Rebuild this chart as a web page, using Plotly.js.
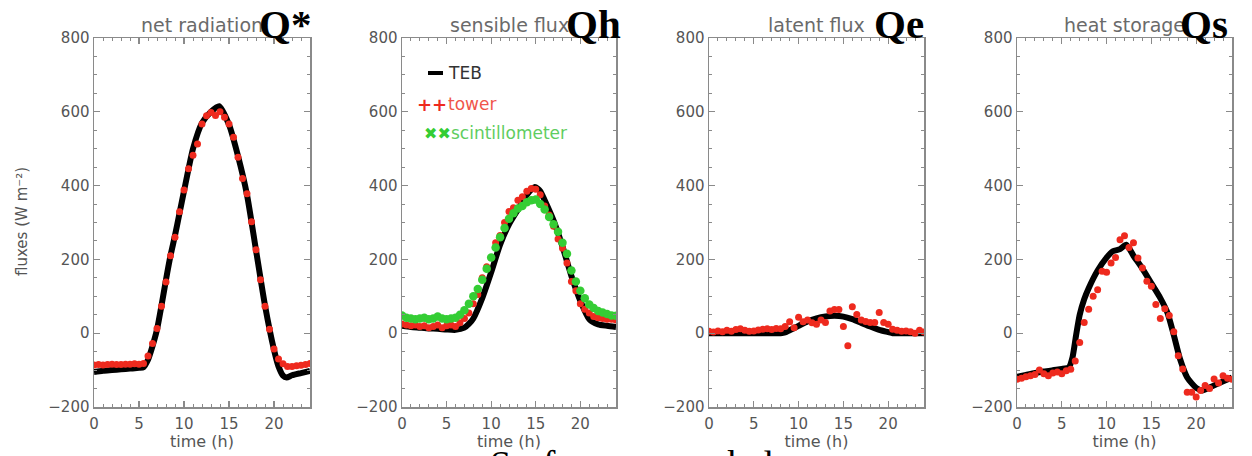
<!DOCTYPE html>
<html>
<head>
<meta charset="utf-8">
<script src="https://cdn.plot.ly/plotly-3.0.1.min.js"></script>
<style>html,body{margin:0;padding:0;background:#fff;}#chart{width:1252px;height:456px;}</style>
</head>
<body>
<div id="chart"></div>
<script>
// ---- data ----
const panelTitles = ["net radiation", "sensible flux", "latent flux", "heat storage"];
const panelTags = ["Q*", "Qh", "Qe", "Qs"];
const seriesNames = ["TEB", "tower", "scintillometer"];
const xTitle = "time (h)";
const yTitle = "fluxes (W m⁻²)";
const bottomText = "Surface energy balance";

// half-hourly observation times
const obsTime = [0,0.5,1,1.5,2,2.5,3,3.5,4,4.5,5,5.5,6,6.5,7,7.5,8,8.5,9,9.5,10,10.5,11,11.5,12,12.5,13,13.5,14,14.5,15,15.5,16,16.5,17,17.5,18,18.5,19,19.5,20,20.5,21,21.5,22,22.5,23,23.5,24];

// net radiation
const tebQstarTime = [0,1,2,3,4,5,5.5,6,6.5,7,7.5,8,8.5,9,9.5,10,11,12,13,13.9,15,16,17,18,19,20,20.5,21,21.4,22,23,24];
const tebQstar = [-105,-102,-100,-98,-96,-94,-92,-72,-35,10,75,145,210,265,325,385,500,570,600,615,565,480,375,225,75,-45,-90,-115,-120,-114,-108,-102];
const towerQstar = [-86,-85,-86,-85,-84,-85,-85,-84,-84,-83,-84,-82,-62,-28,13,73,139,210,260,329,388,446,482,513,567,589,598,590,600,585,567,531,477,419,378,302,226,145,73,11,-43,-70,-83,-90,-90,-88,-87,-85,-82];

// sensible flux
const tebQhTime = [0,1,2,3,4,5,6,7,7.5,8,9,10,11,12,13,14,14.9,15.5,16,17,18,19,20,21,22,23,24];
const tebQh = [20,17,15,13,12,10,9,15,25,40,95,165,240,295,335,375,396,385,360,305,235,155,88,38,24,20,17];
const towerQh = [25,22,20,22,18,20,15,18,22,15,20,22,18,28,40,55,80,105,150,180,205,245,265,300,330,340,360,370,385,392,390,375,345,320,290,255,230,190,140,115,80,65,55,45,42,40,38,38,36];
const scintQh = [48,42,40,38,40,42,38,40,45,40,38,40,42,50,62,80,100,120,145,175,205,232,260,285,310,325,338,345,355,360,362,350,335,315,295,275,245,215,170,140,115,95,78,68,60,56,52,48,47];

// latent flux
const tebQeTime = [0,2,4,6,8,8.5,9,10,11,12,13,14,15,16,17,18,19,20,20.5,22,24];
const tebQe = [0,0,0,0,0,2,8,20,32,40,45,47,45,38,28,18,9,3,0,0,0];
const towerQe = [5,3,6,4,8,5,10,12,8,5,6,9,11,12,10,13,12,18,31,15,43,31,36,28,24,36,29,60,64,64,18,-34,72,51,36,32,29,29,56,29,24,11,8,5,6,4,0,8,3];

// heat storage
const tebQsTime = [0,1,2,3,4,5,5.8,6.2,6.6,7,7.5,8,9,10,10.7,11.5,12.2,13,14,15,16,16.8,17.5,18.2,19,20,20.7,21.5,22.5,24];
const tebQs = [-118,-113,-108,-104,-100,-97,-92,-65,-5,50,92,122,170,205,222,228,240,210,175,135,95,55,-5,-70,-120,-148,-155,-147,-136,-120];
const towerQs = [-125,-122,-118,-115,-112,-100,-110,-115,-108,-105,-110,-102,-98,-75,-25,29,65,100,118,168,165,190,205,253,264,232,245,204,177,141,127,78,40,66,48,4,-61,-97,-160,-160,-173,-155,-142,-150,-124,-135,-115,-122,-125];

const xTickVals = [0,5,10,15,20];
const yTickVals = [-200,0,200,400,600,800];

// ---- layout geometry ----
const W = 1252, H = 456;
const panelPx = [[94,310],[402,616],[709,924],[1017,1232]];
const yDom = [1 - 407/H, 1 - 38/H];
const RED = 'rgb(238,42,30)', GREEN = 'rgb(52,205,52)', AX = '#8a8a8a', TXT = '#555';
const SANS = 'DejaVu Sans, Verdana, sans-serif';
const SERIF = 'Liberation Serif, Times New Roman, serif';

const tebData = [[tebQstarTime, tebQstar],[tebQhTime, tebQh],[tebQeTime, tebQe],[tebQsTime, tebQs]];
const towerData = [towerQstar, towerQh, towerQe, towerQs];

const traces = [];
const layout = {
  width: W, height: H,
  margin: {l:0, r:0, t:0, b:0},
  paper_bgcolor: '#fff', plot_bgcolor: '#fff',
  showlegend: false,
  font: {family: SANS, color: TXT},
  annotations: [], shapes: []
};

for (let i = 0; i < 4; i++) {
  const sfx = i === 0 ? '' : String(i+1);
  const xa = 'x' + sfx, ya = 'y' + sfx;
  const xd = [panelPx[i][0]/W, panelPx[i][1]/W];
  traces.push({x: tebData[i][0], y: tebData[i][1], xaxis: xa, yaxis: ya, type: 'scatter', mode: 'lines', name: seriesNames[0],
    line: {color: '#000', width: 6, shape: 'spline', smoothing: 0.6}});
  traces.push({x: obsTime, y: towerData[i], xaxis: xa, yaxis: ya, type: 'scatter', mode: 'markers', name: seriesNames[1],
    marker: {color: RED, size: 7, symbol: 'circle'}});
  if (i === 1) {
    traces.push({x: obsTime, y: scintQh, xaxis: xa, yaxis: ya, type: 'scatter', mode: 'markers', name: seriesNames[2],
      marker: {color: GREEN, size: 8.5, symbol: 'circle'}});
  }

  layout['xaxis' + sfx] = {
    domain: xd, anchor: ya, range: [0, 24],
    showline: true, linecolor: AX, linewidth: 1.5, mirror: 'allticks',
    ticks: 'inside', ticklen: 6, tickwidth: 1.2, tickcolor: AX,
    tickmode: 'array', tickvals: xTickVals, ticktext: xTickVals.map(String),
    minor: {ticks: 'inside', dtick: 1, tick0: 0, ticklen: 3, tickwidth: 1, tickcolor: AX, showgrid: false},
    showgrid: false, zeroline: false, ticklabelstandoff: 2,
    tickfont: {family: SANS, size: 15, color: TXT},
    title: {text: xTitle, font: {family: SANS, size: 16, color: TXT}, standoff: 2}
  };
  layout['yaxis' + sfx] = {
    domain: yDom, anchor: xa, range: [-200, 800],
    showline: true, linecolor: AX, linewidth: 1.5, mirror: 'allticks',
    ticks: 'inside', ticklen: 6, tickwidth: 1.2, tickcolor: AX,
    tickmode: 'array', tickvals: yTickVals, ticktext: yTickVals.map(v => v < 0 ? '−' + Math.abs(v) : String(v)),
    minor: {ticks: 'inside', dtick: 50, tick0: 0, ticklen: 3, tickwidth: 1, tickcolor: AX, showgrid: false},
    showgrid: false, zeroline: false, ticklabelstandoff: 0,
    tickfont: {family: SANS, size: 15, color: TXT}
  };

  // panel title
  layout.annotations.push({xref: 'paper', yref: 'paper', x: (xd[0]+xd[1])/2, y: 1 - 25/H,
    xanchor: 'center', yanchor: 'middle', showarrow: false, text: panelTitles[i],
    font: {family: SANS, size: 19, color: '#6a6a6a'}});
}

// tags Q*, Qh, Qe, Qs
const tagRight = [313, 623, 926, 1230];
for (let i = 0; i < 4; i++) {
  layout.annotations.push({xref: 'paper', yref: 'paper', x: tagRight[i]/W, y: 1 - 24/H,
    xanchor: 'right', yanchor: 'middle', showarrow: false, text: '<b>' + panelTags[i] + '</b>',
    font: {family: SERIF, size: 41, color: '#000'}});
}

// y title
layout.annotations.push({xref: 'paper', yref: 'paper', x: 22/W, y: 1 - 222/H, xanchor: 'center', yanchor: 'middle',
  textangle: -90, showarrow: false, text: yTitle, font: {family: SANS, size: 15, color: TXT}});

// legend in the sensible flux panel
layout.shapes.push({type: 'line', xref: 'paper', yref: 'paper', x0: 428/W, x1: 443/W, y0: 1 - 73/H, y1: 1 - 73/H,
  line: {color: '#000', width: 4}});
layout.annotations.push({xref: 'paper', yref: 'paper', x: 446/W, y: 1 - 73/H, xanchor: 'left', yanchor: 'middle',
  showarrow: false, text: seriesNames[0], font: {family: SANS, size: 17, color: '#333'}});
layout.annotations.push({xref: 'paper', yref: 'paper', x: 449/W, y: 1 - 104/H, xanchor: 'right', yanchor: 'middle',
  showarrow: false, text: '<b>++</b>', font: {family: SANS, size: 18, color: RED}});
layout.annotations.push({xref: 'paper', yref: 'paper', x: 446/W, y: 1 - 104/H, xanchor: 'left', yanchor: 'middle',
  showarrow: false, text: seriesNames[1], font: {family: SANS, size: 17, color: 'rgb(240,85,75)'}});
layout.annotations.push({xref: 'paper', yref: 'paper', x: 453/W, y: 1 - 133/H, xanchor: 'right', yanchor: 'middle',
  showarrow: false, text: '<b>✖✖</b>', font: {family: SANS, size: 16, color: GREEN}});
layout.annotations.push({xref: 'paper', yref: 'paper', x: 449/W, y: 1 - 133/H, xanchor: 'left', yanchor: 'middle',
  showarrow: false, text: seriesNames[2], font: {family: SANS, size: 17, color: 'rgb(95,205,95)'}});

// large bottom caption (cut by the page edge as in the reference)
layout.annotations.push({xref: 'paper', yref: 'paper', x: 488/W, y: 1 - 441/H, xanchor: 'left', yanchor: 'top',
  showarrow: false, text: bottomText, font: {family: SERIF, size: 38, color: '#000'}});

Plotly.newPlot('chart', traces, layout, {staticPlot: true, displayModeBar: false});
</script>
</body>
</html>
